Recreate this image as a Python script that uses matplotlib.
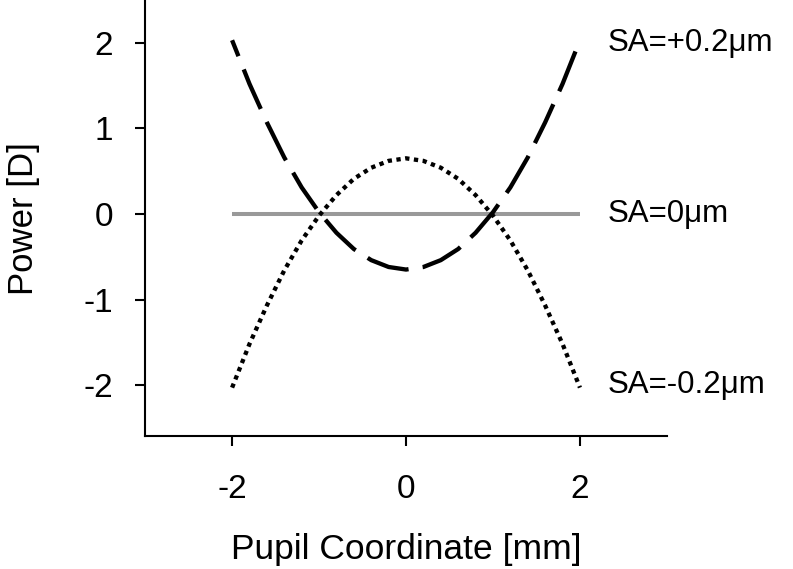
import numpy as np
import matplotlib
matplotlib.use('Agg')
import matplotlib.pyplot as plt

plt.rcParams['font.family'] = ['Liberation Sans', 'DejaVu Sans']

# pupil coordinate [mm] and power [D]
pupil = [-2.0, -1.8, -1.6, -1.4, -1.2, -1.0, -0.8, -0.6, -0.4, -0.2, 0.0,
         0.2, 0.4, 0.6, 0.8, 1.0, 1.2, 1.4, 1.6, 1.8, 2.0]
power_pos = [2.03, 1.52, 1.07, 0.66, 0.31, 0.02, -0.22, -0.41, -0.54, -0.62, -0.65,
             -0.62, -0.54, -0.41, -0.22, 0.02, 0.31, 0.66, 1.07, 1.52, 2.03]
power_zero = [0.0] * len(pupil)
power_neg = [-2.03, -1.52, -1.07, -0.66, -0.31, -0.02, 0.22, 0.41, 0.54, 0.62, 0.65,
             0.62, 0.54, 0.41, 0.22, -0.02, -0.31, -0.66, -1.07, -1.52, -2.03]

labels = ['SA=+0.2\u03bcm', 'SA=0\u03bcm', 'SA=-0.2\u03bcm']
label_y = [2, 0, -2]
xticks = [-2, 0, 2]
yticks = [-2, -1, 0, 1, 2]

fig = plt.figure(figsize=(7.93, 5.69), dpi=100)
ax = fig.add_axes([0.183, 0.233, 0.658, 0.767])

ax.plot(pupil, power_zero, color='#999999', lw=2.9, solid_capstyle='butt')
ax.plot(pupil, power_pos, color='black', lw=3.1, linestyle=(6, (10, 3.3)),
        dash_capstyle='butt')
ax.plot(pupil, power_neg, color='black', lw=3.1, linestyle=(0, (1, 1.05)),
        dash_capstyle='butt')

for lab, y in zip(labels, label_y):
    ax.text(2.32, y, lab, fontsize=22.5, va='center', ha='left', clip_on=False)

ax.set_xlim(-3, 3)
ax.set_ylim(-2.6, 2.5)
ax.set_xticks(xticks)
ax.set_yticks(yticks)
ax.set_xticklabels([str(t) for t in xticks])
ax.set_yticklabels([str(t) for t in yticks])

for s in ['top', 'right']:
    ax.spines[s].set_visible(False)
for s in ['left', 'bottom']:
    ax.spines[s].set_linewidth(1.5)

ax.tick_params(axis='x', length=7, width=1.5, labelsize=24, pad=20)
ax.tick_params(axis='y', length=7, width=1.5, labelsize=24, pad=16)

ax.set_xlabel('Pupil Coordinate [mm]', fontsize=25.5, labelpad=20)
ax.set_ylabel('Power [D]', fontsize=25, labelpad=31)

fig.savefig('out.png', dpi=100)
